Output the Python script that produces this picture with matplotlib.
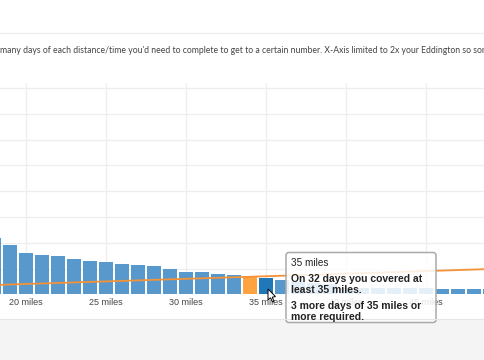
# eddington chart with hover tooltip
import matplotlib
matplotlib.use('Agg')
from matplotlib import pyplot as plt
from matplotlib.patches import FancyBboxPatch, Polygon, Rectangle

miles = [18, 19, 20, 21, 22, 23, 24, 25, 26, 27, 28, 29, 30, 31, 32, 33, 34, 35, 36, 37, 38, 39, 40, 41, 42, 43, 44, 45, 46, 47, 48, 49]
days = [109, 96, 80, 76, 74, 69, 65, 62, 58, 57, 54, 50, 44, 44, 40, 37, 34, 32, 27, 24, 22, 20, 13, 13, 13, 13, 13, 13, 10, 10, 10, 10]
tick_miles = [20, 25, 30, 35, 40, 45]
tick_labels = ['20 miles', '25 miles', '30 miles', '35 miles', '40 miles', '45 miles']
grid_days = [0, 50, 100, 150, 200, 250, 300, 350, 400]
line_miles = [18, 50]
line_days = [18, 50]
eddington = 34
hovered = 35

W, H = 485, 360
fig = plt.figure(figsize=(W / 100, H / 100), dpi=100, facecolor='white')
plt.rcParams['font.family'] = ['Liberation Sans', 'DejaVu Sans']


# figure coords from reference pixels
def px(x, y):
    return x / W, 1 - y / H


ax = fig.add_axes([0, (H - 294.3) / H, 1, (294.3 - 83) / H])
ax.set_xlim(18.37, 48.68)
ax.set_ylim(0, 409.5)
for s in ax.spines.values():
    s.set_visible(False)

colors = []
for m in miles:
    if m == eddington:
        colors.append('#ffa340')
    elif m == hovered:
        colors.append('#1f78b8')
    else:
        colors.append('#5799cc')
ax.bar(miles, days, width=0.875, color=colors, zorder=2)
ax.plot(line_miles, line_days, color='#f39237', lw=1.3, zorder=3)

ax.set_xticks(tick_miles)
ax.set_xticklabels(tick_labels, fontsize=6.5, color='#444444')
ax.set_yticks(grid_days)
ax.set_yticklabels([])
ax.tick_params(length=0, pad=3)
ax.grid(color='#eeeeee', lw=0.9, zorder=0)
ax.set_axisbelow(True)

# page furniture
fig.add_artist(plt.Line2D([0, 1], [1 - 33 / H] * 2, color='#eeeeee', lw=1))
fig.add_artist(Rectangle(px(0, H), 1, 41 / H, color='#f4f4f4', lw=0))
fig.add_artist(plt.Line2D([0, 1], [1 - 319 / H] * 2, color='#e6e6e6', lw=0.8))
fig.text(0, 1 - 50.5 / H,
         "many days of each distance/time you'd need to complete to get to a certain number. "
         "X-Axis limited to 2x your Eddington so some",
         family=['Lato', 'DejaVu Sans'], fontsize=6.2, color='#444444', va='center', ha='left')

# tooltip
tip = FancyBboxPatch((286 / W, 1 - 322.5 / H), 150 / W, 70 / H, boxstyle='round,pad=0,rounding_size=0.006',
                     transform=fig.transFigure, facecolor=(1, 1, 1, 0.85), edgecolor='#aaaaaa', lw=1.1, mutation_aspect=1.3)
fig.add_artist(tip)
fig.text(291 / W, 1 - 263 / H, '35 miles', fontsize=7.2, color='#222222', va='center', ha='left')
tip_lines = [(278.5, 'On 32 days you covered at'), (290, 'least 35 miles.'),
             (305.7, '3 more days of 35 miles or'), (316.7, 'more required.')]
for y, t in tip_lines:
    fig.text(291 / W, 1 - y / H, t, fontsize=7.45, fontweight='bold', color='#222222', va='center', ha='left')

# mouse pointer
cursor = [(268, 289), (268, 300), (270.5, 297.8), (272.5, 302), (274, 301), (272.2, 297.2), (275.5, 296.6)]
fig.add_artist(Polygon([px(x, y) for x, y in cursor], closed=True, transform=fig.transFigure,
                       facecolor='white', edgecolor='black', lw=0.7))

fig.savefig('out.png', dpi=100)
